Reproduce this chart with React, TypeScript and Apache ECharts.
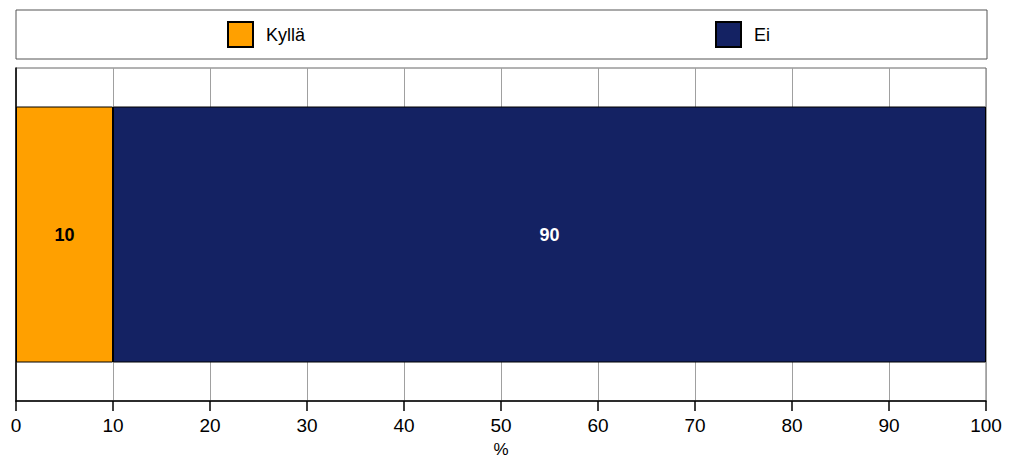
import React, { useEffect, useRef } from "react";
import * as echarts from "echarts";

const categories = [""];
const seriesNames = ["Kyllä", "Ei"];
const kylla = [10];
const ei = [90];
const xTicks = [0, 10, 20, 30, 40, 50, 60, 70, 80, 90, 100];

export default function App() {
  const ref = useRef<HTMLDivElement>(null);
  useEffect(() => {
    document.body.style.margin = "0";
    const chart = echarts.init(ref.current!, null, { renderer: "svg" });
    const font = "Liberation Sans, Arial, sans-serif";
    chart.setOption({
      animation: false,
      backgroundColor: "#fff",
      textStyle: { fontFamily: font },
      graphic: [
        {
          type: "rect",
          shape: { x: 16, y: 10, width: 971, height: 49 },
          style: { fill: "#fff", stroke: "#555", lineWidth: 1 },
          z: -1,
        },
      ],
      legend: [
        {
          data: [seriesNames[0]],
          left: 222,
          top: 16,
          itemWidth: 25,
          itemHeight: 25,
          icon: "rect",
          textStyle: { fontSize: 18, color: "#000", fontFamily: font, padding: [0, 0, 0, 8] },
        },
        {
          data: [seriesNames[1]],
          left: 710,
          top: 16,
          itemWidth: 25,
          itemHeight: 25,
          icon: "rect",
          textStyle: { fontSize: 18, color: "#000", fontFamily: font, padding: [0, 0, 0, 8] },
        },
      ],
      grid: {
        left: 16,
        top: 68,
        right: 27,
        bottom: 58,
        show: true,
        borderColor: "#666",
        borderWidth: 1,
        containLabel: false,
        outerBoundsMode: "none",
      },
      xAxis: {
        type: "value",
        min: xTicks[0],
        max: xTicks[xTicks.length - 1],
        interval: 10,
        name: "%",
        nameLocation: "middle",
        nameGap: 40,
        nameTextStyle: { fontSize: 17, color: "#000", fontFamily: font, lineHeight: 17 },
        axisLine: { show: true, lineStyle: { color: "#000", width: 1.5 } },
        axisTick: { show: true, length: 10, lineStyle: { color: "#000", width: 1.5 } },
        axisLabel: { fontSize: 19, color: "#000", margin: 15, fontFamily: font },
        splitLine: { show: true, lineStyle: { color: "#a0a0a0", width: 1 } },
      },
      yAxis: {
        type: "category",
        data: categories,
        axisLine: { show: true, lineStyle: { color: "#000", width: 1.5 } },
        axisTick: { show: false },
        axisLabel: { show: false },
        splitLine: { show: false },
      },
      series: [
        {
          name: seriesNames[0],
          type: "bar",
          stack: "s",
          data: kylla,
          barWidth: 256,
          itemStyle: { color: "#FFA000", borderColor: "#000", borderWidth: 1 },
          label: {
            show: true,
            position: "inside",
            fontSize: 18,
            fontWeight: "bold",
            color: "#000",
            fontFamily: font,
          },
        },
        {
          name: seriesNames[1],
          type: "bar",
          stack: "s",
          data: ei,
          barWidth: 256,
          itemStyle: { color: "#142263", borderColor: "#000", borderWidth: 1 },
          label: {
            show: true,
            position: "inside",
            fontSize: 18,
            fontWeight: "bold",
            color: "#fff",
            fontFamily: font,
          },
        },
      ],
    });
    return () => chart.dispose();
  }, []);
  return <div ref={ref} style={{ width: 1013, height: 459 }} />;
}
